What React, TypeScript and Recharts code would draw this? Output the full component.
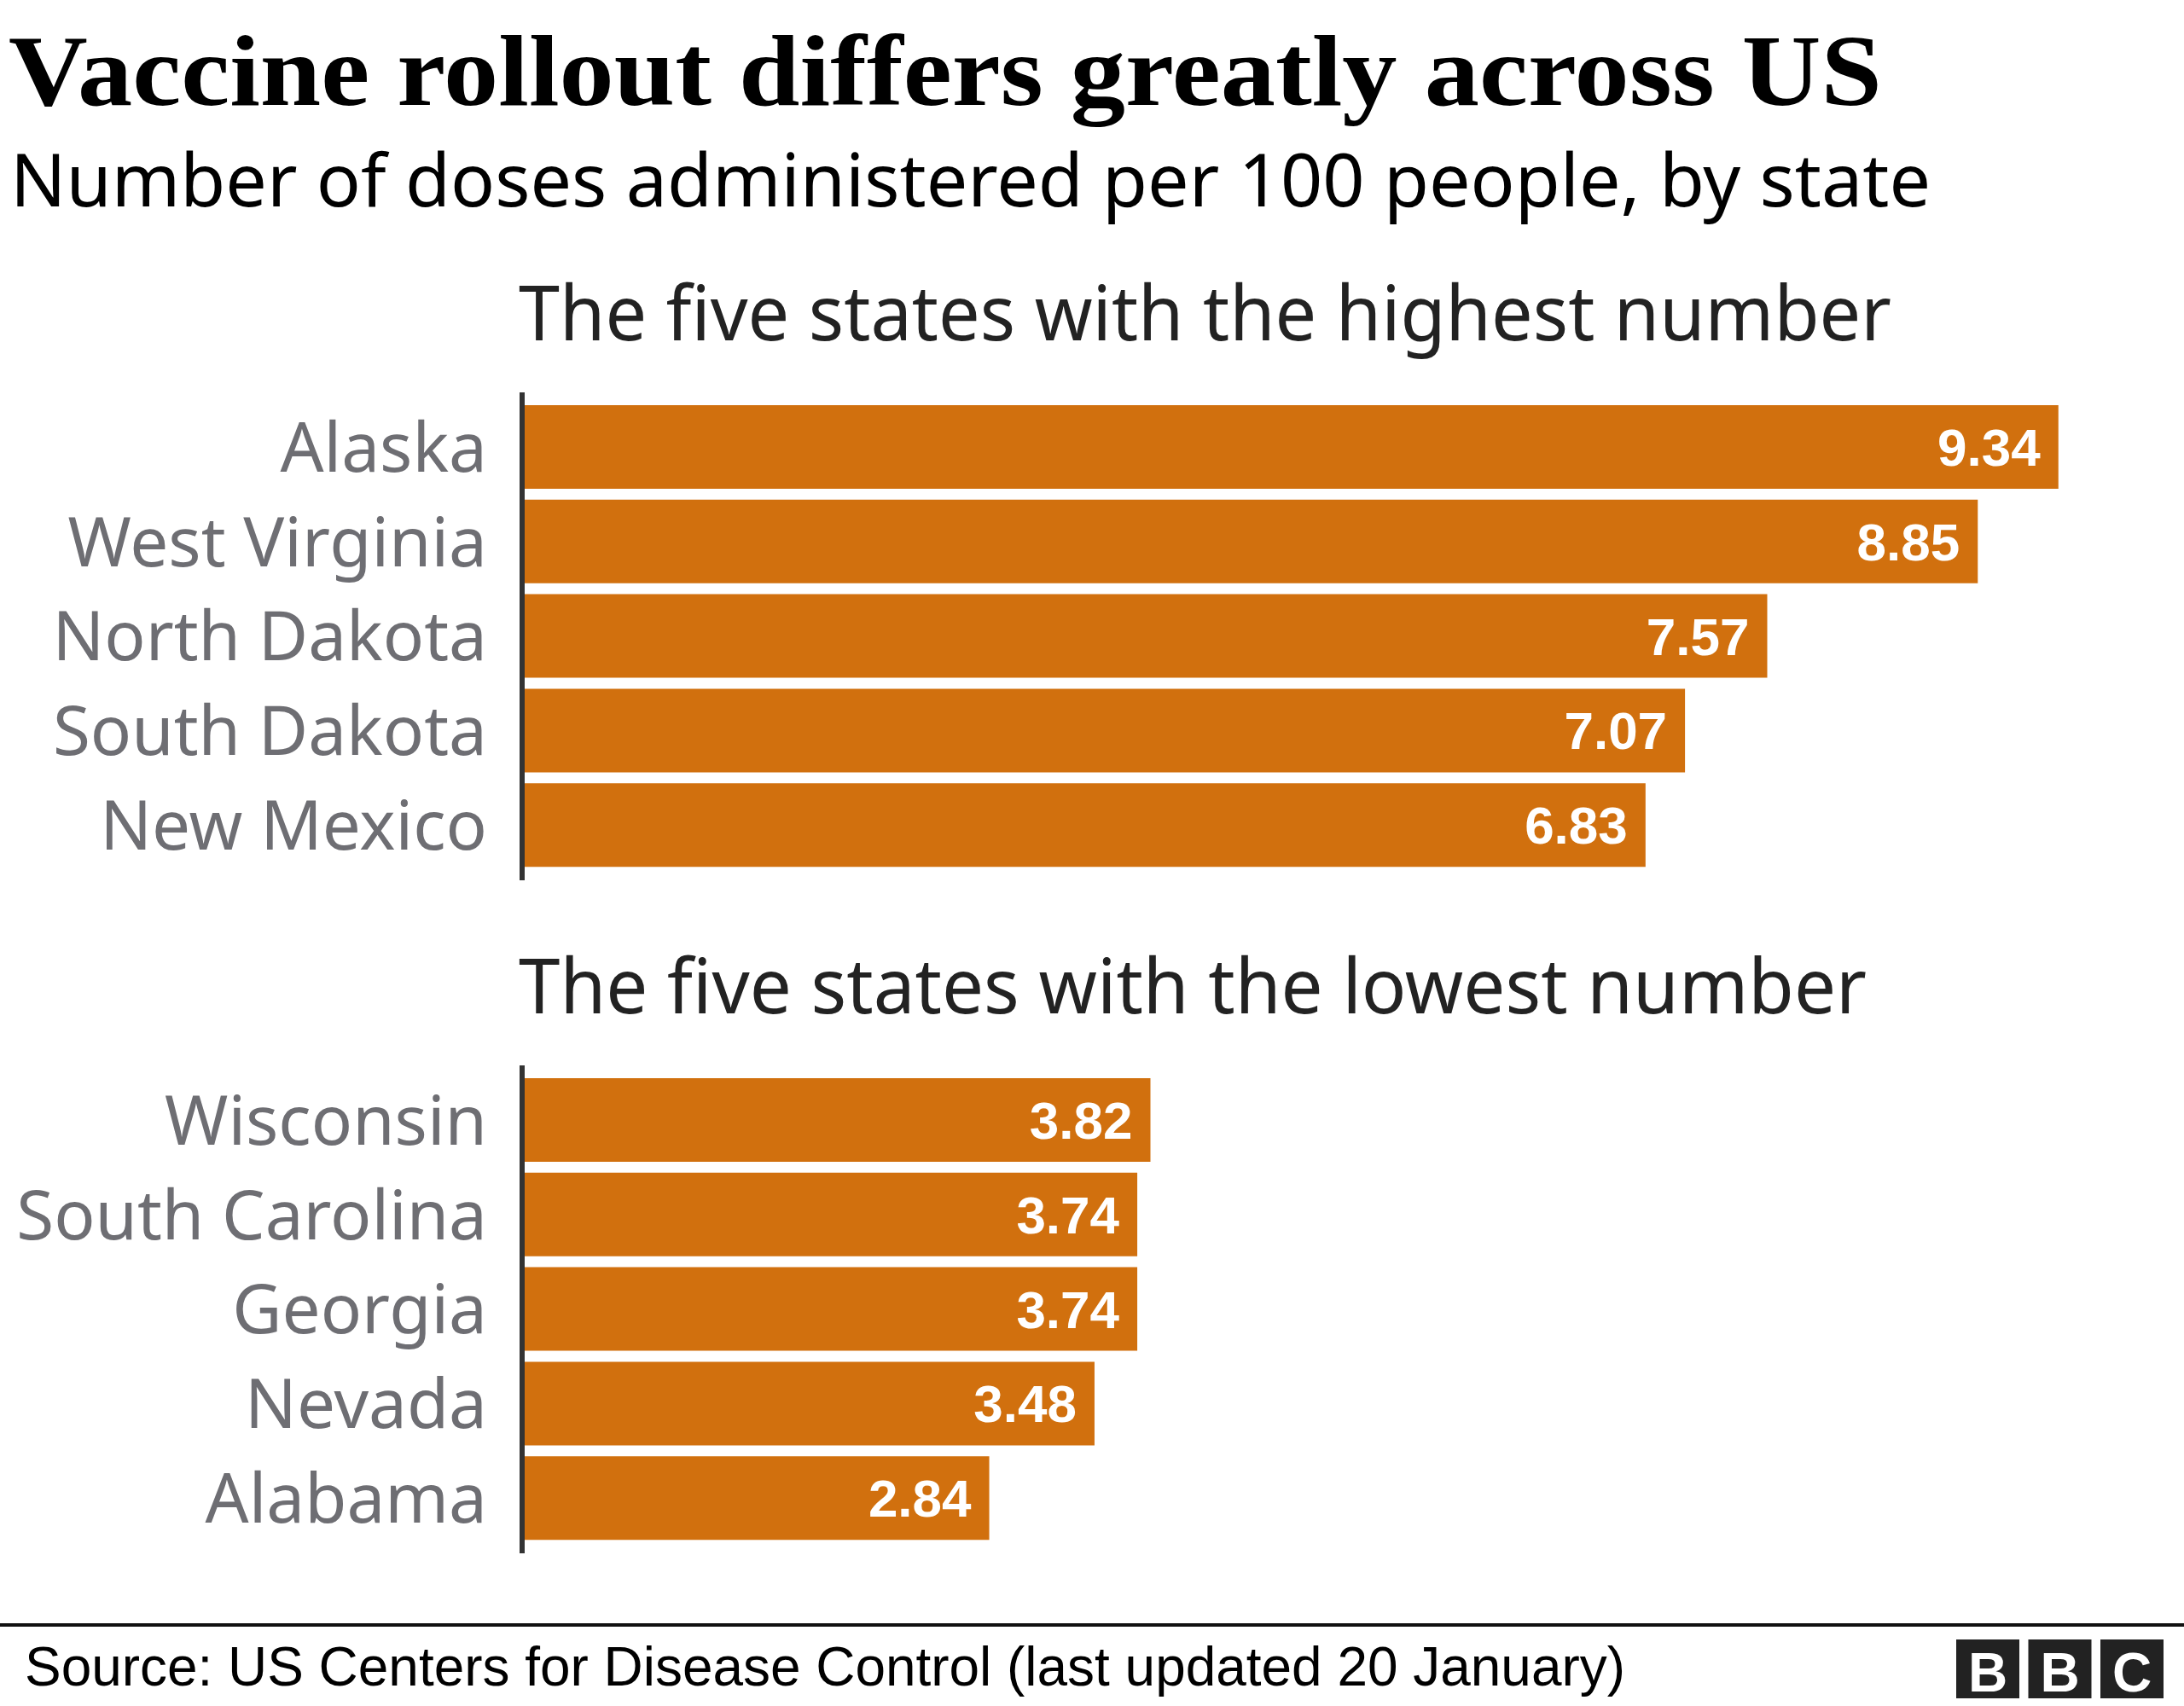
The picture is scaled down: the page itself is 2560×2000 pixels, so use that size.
import React from 'react';
import { BarChart, Bar, XAxis, YAxis, LabelList } from 'recharts';

const topStates = ['Alaska', 'West Virginia', 'North Dakota', 'South Dakota', 'New Mexico'];
const topValues = [9.34, 8.85, 7.57, 7.07, 6.83];

const bottomStates = ['Wisconsin', 'South Carolina', 'Georgia', 'Nevada', 'Alabama'];
const bottomValues = [3.82, 3.74, 3.74, 3.48, 2.84];

const BAR_COLOR = '#d1700e';
const SANS = '"Noto Sans", "Open Sans", sans-serif';

function toRows(names: string[], values: number[]) {
  return names.map((name, i) => ({ name, value: values[i] }));
}

function StatePanel({ data, top }: { data: Array<{ name: string; value: number }>; top: number }) {
  return (
    <div style={{ position: 'absolute', left: 0, top, width: 2560, height: 1040 }}>
      <BarChart
        width={2560}
        height={1040}
        data={data}
        layout="vertical"
        margin={{ top: 460, right: 20, bottom: 8, left: 0 }}
      >
        <XAxis type="number" domain={[0, 10]} hide />
        <YAxis
          type="category"
          dataKey="name"
          width={612}
          padding={{ top: 9, bottom: 9 }}
          tickLine={false}
          tickSize={0}
          tickMargin={41}
          axisLine={{ stroke: '#333', strokeWidth: 6 }}
          tick={{ fontSize: 80, fill: '#6e6e73', fontFamily: SANS }}
          interval={0}
        />
        <Bar dataKey="value" fill={BAR_COLOR} barSize={98} isAnimationActive={false}>
          <LabelList
            dataKey="value"
            position="insideRight"
            offset={21}
            formatter={(v: number) => v.toFixed(2)}
            style={{
              fill: '#fff',
              fontSize: 62,
              fontWeight: 700,
              fontFamily: '"Liberation Sans", Arial, sans-serif',
            }}
          />
        </Bar>
      </BarChart>
    </div>
  );
}

export default function App() {
  return (
    <div
      style={{
        position: 'absolute',
        left: 0,
        top: 0,
        width: 2560,
        height: 2000,
        background: '#fff',
        overflow: 'hidden',
      }}
    >
      <StatePanel data={toRows(topStates, topValues)} top={0} />
      <StatePanel data={toRows(bottomStates, bottomValues)} top={789} />

      {/* titles, panel headings and footer */}
      <svg
        width={2560}
        height={2000}
        style={{ position: 'absolute', left: 0, top: 0, pointerEvents: 'none' }}
      >
        <text
          x={10}
          y={123}
          fontFamily='"Liberation Serif", "DejaVu Serif", serif'
          fontWeight={700}
          fontSize={118}
          fill="#000"
          textLength={2196}
          lengthAdjust="spacingAndGlyphs"
        >
          Vaccine rollout differs greatly across US
        </text>
        <text
          x={12}
          y={242}
          fontFamily={SANS}
          fontSize={86}
          fill="#000"
          textLength={2251}
          lengthAdjust="spacingAndGlyphs"
        >
          Number of doses administered per 100 people, by state
        </text>
        <text
          x={608}
          y={399}
          fontFamily={SANS}
          fontSize={89}
          fill="#222"
          textLength={1609}
          lengthAdjust="spacingAndGlyphs"
        >
          The five states with the highest number
        </text>
        <text
          x={608}
          y={1188}
          fontFamily={SANS}
          fontSize={89}
          fill="#222"
          textLength={1580}
          lengthAdjust="spacingAndGlyphs"
        >
          The five states with the lowest number
        </text>

        <line x1={0} x2={2560} y1={1905} y2={1905} stroke="#111" strokeWidth={4} />
        <text
          x={29}
          y={1976}
          fontFamily='"Liberation Sans", Arial, sans-serif'
          fontSize={65}
          fill="#000"
          textLength={1876}
          lengthAdjust="spacingAndGlyphs"
        >
          Source: US Centers for Disease Control (last updated 20 January)
        </text>

        {['B', 'B', 'C'].map((letter, i) => (
          <g key={i}>
            <rect x={2293 + i * 84.5} y={1922} width={74} height={69} fill="#222" />
            <text
              x={2293 + i * 84.5 + 37}
              y={1983}
              textAnchor="middle"
              fontFamily='"Liberation Sans", Arial, sans-serif'
              fontWeight={700}
              fontSize={64}
              fill="#fff"
            >
              {letter}
            </text>
          </g>
        ))}
      </svg>
    </div>
  );
}
